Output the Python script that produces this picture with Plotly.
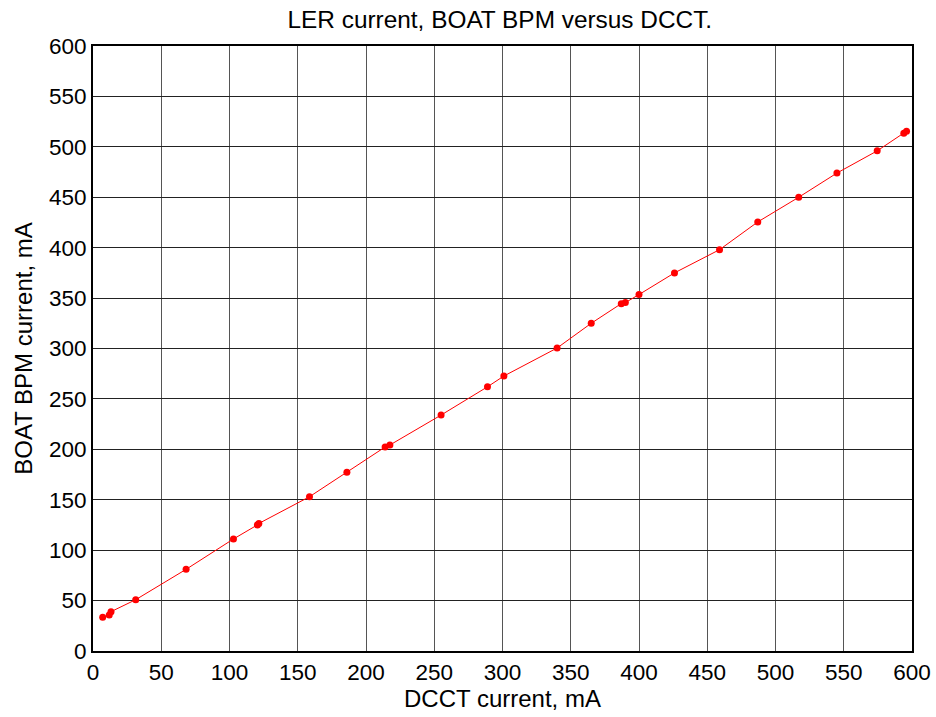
import plotly.graph_objects as go

dcct = [7.1, 11.9, 13.2, 31.3, 68.2, 102.9, 120.4, 121.5, 158.6, 186.0, 214.0, 217.5,
        255.0, 289.0, 301.0, 340.0, 365.0, 387.0, 390.0, 400.0, 426.0, 459.0, 487.0,
        517.0, 545.0, 574.5, 594.0, 596.0]
bpm = [33.4, 35.7, 39.0, 50.9, 81.0, 111.1, 125.0, 126.5, 153.0, 177.2, 202.3, 204.3,
       234.0, 262.0, 272.7, 300.5, 325.0, 344.5, 345.5, 353.5, 375.0, 398.0, 425.5,
       450.0, 474.0, 496.0, 513.5, 515.5]

xticks = list(range(0, 601, 50))
yticks = list(range(0, 601, 50))

fig = go.Figure()
fig.add_trace(go.Scatter(
    x=dcct, y=bpm, mode="lines+markers",
    line=dict(color="#ff0000", width=1),
    marker=dict(color="#ff0000", size=7),
    showlegend=False,
))

font = "Liberation Sans, Arial, sans-serif"
fig.update_layout(
    width=936, height=717,
    margin=dict(l=93, r=24, t=46, b=66),
    paper_bgcolor="white", plot_bgcolor="white",
    font=dict(family=font, size=22.5, color="black"),
    title=dict(text="LER current, BOAT BPM versus DCCT.", x=0.534, xanchor="center",
               y=0.973, yanchor="middle", font=dict(size=24.4, family=font)),
    xaxis=dict(range=[0, 600], tickvals=xticks, ticktext=[str(v) for v in xticks],
               showgrid=True, gridcolor="#555555", gridwidth=1,
               showline=True, linecolor="black", linewidth=2, mirror=True,
               ticks="", zeroline=False, tickfont=dict(size=22.5), automargin=False,
               title=dict(text="DCCT current, mA", font=dict(size=24), standoff=4)),
    yaxis=dict(range=[0, 600], tickvals=yticks, ticktext=[str(v) for v in yticks],
               showgrid=True, gridcolor="#222222", gridwidth=1,
               showline=True, linecolor="black", linewidth=2, mirror=True,
               ticks="", zeroline=False, tickfont=dict(size=22.5), automargin=False,
               title=dict(text="BOAT BPM current, mA", font=dict(size=24), standoff=10)),
)

fig.write_html("out.html")
